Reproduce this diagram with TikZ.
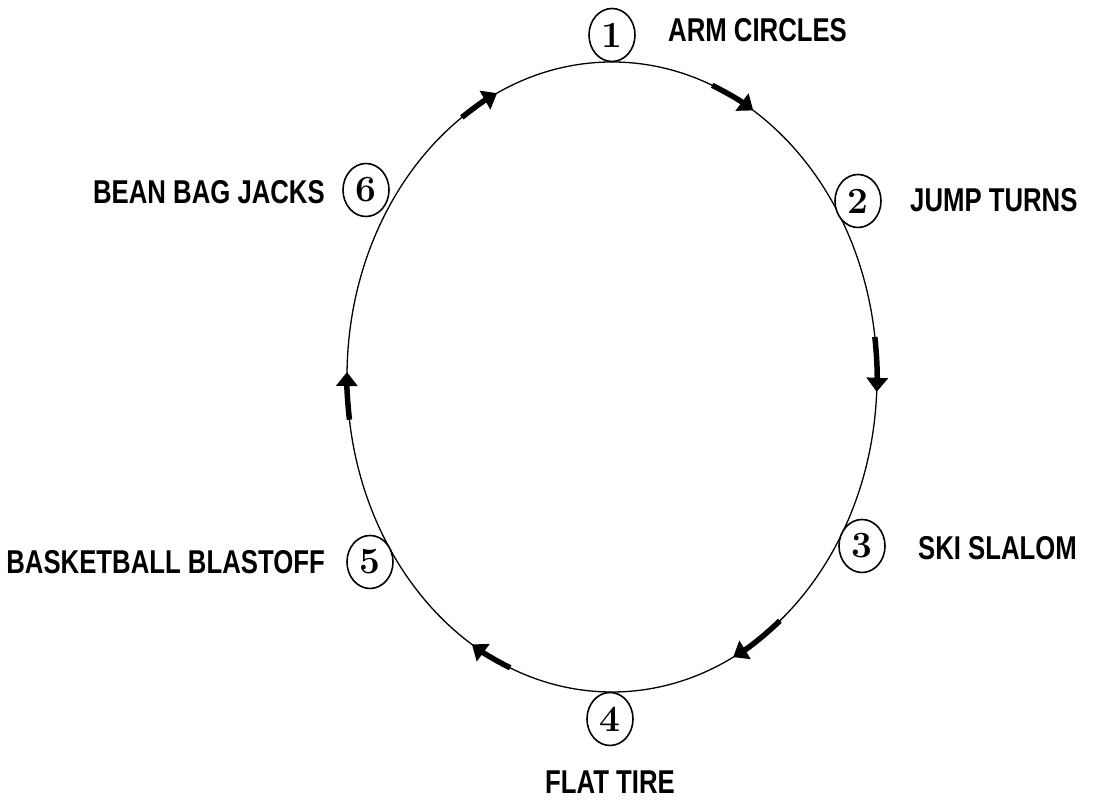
\documentclass[tikz,border=0pt]{standalone}
\usepackage{fontspec}
\newfontfamily\labfont[FakeStretch=0.78]{Liberation Sans}
\usetikzlibrary{shapes.geometric,arrows.meta,calc}
\tikzset{
  numc/.style={draw, ellipse, line width=1.6pt, minimum width=46pt, minimum height=53pt, inner sep=0pt, fill=white,
    font=\fontsize{37}{37}\selectfont\bfseries},
  lab/.style={inner sep=0pt, font=\labfont\fontsize{33}{33}\selectfont\bfseries},
  flow/.style={line width=5.5pt, -{Triangle[width=21pt,length=14pt]}},
}
\newcommand{\flowarrow}[2]{\draw[flow] ([shift={(C)}]#1:265pt and 315pt) arc[start angle=#1, end angle=#2, x radius=265pt, y radius=315pt];}
\begin{document}
\begin{tikzpicture}
\useasboundingbox (0pt,0pt) rectangle (1096pt,802pt);
\coordinate (C) at (612pt,425pt);
\draw[line width=1.3pt] (C) ellipse[x radius=265pt, y radius=315pt];
\flowarrow{67.8}{57.8}
\flowarrow{7.3}{-2.7}
\flowarrow{-50.7}{-62.8}
\flowarrow{-112.6}{-121.9}
\flowarrow{187.8}{179.1}
\flowarrow{124.5}{115.7}
\node[numc] (n1) at (612pt,767pt) {1};
\node[numc] (n2) at (858pt,601pt) {2};
\node[numc] (n3) at (862pt,256pt) {3};
\node[numc] (n4) at (610pt,83pt) {4};
\node[numc] (n5) at (370pt,240pt) {5};
\node[numc] (n6) at (366pt,612pt) {6};
\node[lab, anchor=west] (l1) at (668pt,772pt) {ARM CIRCLES};
\node[lab, anchor=west] (l2) at (910pt,602pt) {JUMP TURNS};
\node[lab, anchor=west] (l3) at (918pt,254pt) {SKI SLALOM};
\node[lab] (l4) at (610pt,20pt) {FLAT TIRE};
\node[lab, anchor=east] (l5) at (325pt,240pt) {BASKETBALL BLASTOFF};
\node[lab, anchor=east] (l6) at (325pt,610pt) {BEAN BAG JACKS};
\end{tikzpicture}
\end{document}
